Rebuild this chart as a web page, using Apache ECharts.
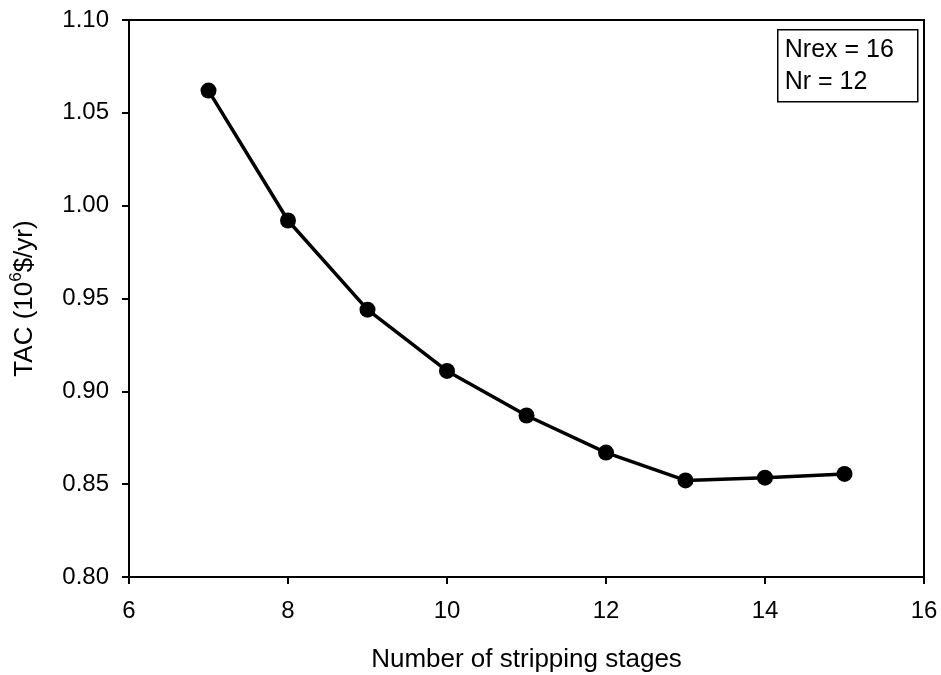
<!DOCTYPE html>
<html>
<head>
<meta charset="utf-8">
<script src="https://cdn.jsdelivr.net/npm/echarts@6/dist/echarts.min.js"></script>
<style>html,body{margin:0;padding:0;background:#fff}#c{width:941px;height:675px}</style>
</head>
<body>
<div id="c"></div>
<script>
const stages = [7, 8, 9, 10, 11, 12, 13, 14, 15];
const tac = [1.062, 0.992, 0.944, 0.911, 0.887, 0.867, 0.852, 0.8535, 0.8555];
const xTicks = [6, 8, 10, 12, 14, 16];
const yTicks = ['0.80', '0.85', '0.90', '0.95', '1.00', '1.05', '1.10'];
const noteLines = ['Nrex = 16', 'Nr = 12'];

const FONT = '"Liberation Sans", Arial, sans-serif';
const chart = echarts.init(document.getElementById('c'));
chart.setOption({
  backgroundColor: '#fff',
  animation: false,
  grid: { left: 129, top: 20, right: 17, bottom: 98, outerBoundsMode: 'none', containLabel: false,
    show: true, borderColor: '#000', borderWidth: 2, backgroundColor: 'transparent' },
  xAxis: {
    type: 'value', min: 6, max: 16, interval: 2,
    name: 'Number of stripping stages', nameLocation: 'middle', nameGap: 70,
    nameTextStyle: { fontFamily: FONT, fontSize: 26, color: '#000' },
    axisLine: { lineStyle: { color: '#000', width: 2 } },
    axisTick: { length: 7, lineStyle: { color: '#000', width: 2 } },
    axisLabel: { fontFamily: FONT, fontSize: 24, color: '#000', margin: 22,
      formatter: v => xTicks.includes(v) ? String(v) : '' },
    splitLine: { show: false }
  },
  yAxis: {
    type: 'value', min: 0.80, max: 1.10, interval: 0.05,
    name: '{a|TAC (10}{s|6}{a|$/yr)}', nameLocation: 'middle', nameGap: 91,
    nameTextStyle: { fontFamily: FONT, color: '#000',
      rich: { a: { fontFamily: FONT, fontSize: 26, color: '#000', lineHeight: 30, verticalAlign: 'bottom' },
              s: { fontFamily: FONT, fontSize: 17, color: '#000', lineHeight: 17, verticalAlign: 'top' } } },
    axisLine: { lineStyle: { color: '#000', width: 2 } },
    axisTick: { length: 7, lineStyle: { color: '#000', width: 2 } },
    axisLabel: { fontFamily: FONT, fontSize: 24, color: '#000', margin: 20,
      formatter: v => yTicks[Math.round((v - 0.80) / 0.05)] },
    splitLine: { show: false }
  },
  series: [{
    type: 'line',
    data: stages.map((s, i) => [s, tac[i]]),
    symbol: 'circle', symbolSize: 16,
    lineStyle: { color: '#000', width: 3.5 },
    itemStyle: { color: '#000' }
  }],
  graphic: [{
    type: 'group', left: 777, top: 29,
    children: [
      { type: 'rect', shape: { x: 0, y: 0, width: 140, height: 72 }, style: { fill: '#fff', stroke: '#000', lineWidth: 1.5 } },
      { type: 'text', left: 7, top: 4, style: { text: noteLines.join('\n'), font: '25px ' + FONT, fill: '#000', lineHeight: 32 } }
    ]
  }]
});
</script>
</body>
</html>
